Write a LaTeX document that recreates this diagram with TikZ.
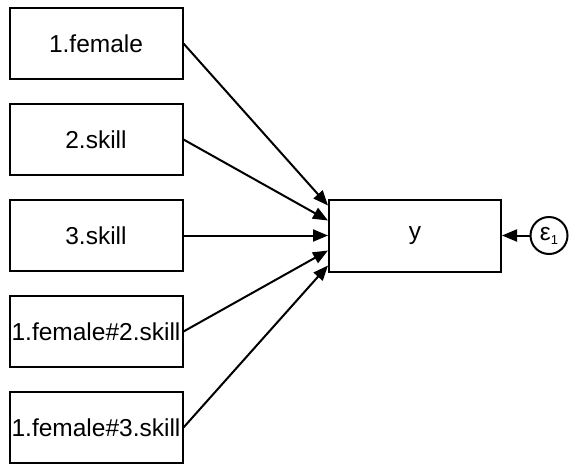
\documentclass[tikz,border=0pt]{standalone}
\usepackage{fontspec}
\setmainfont{Liberation Sans}
\usetikzlibrary{arrows.meta,positioning}
\tikzstyle{block} = [draw, rectangle, line width=2pt, minimum height=71pt, minimum width=173pt, inner sep=0pt]
\tikzstyle{err} = [draw, circle, line width=2pt, minimum size=37pt, inner sep=0pt]

\begin{document}
\begin{tikzpicture}[auto, node distance=96pt, >={Triangle[length=15pt,width=12pt]}, line width=2pt, font=\fontsize{24.5}{29}\selectfont]
\useasboundingbox (0,0) rectangle (570pt,-464pt);

\node [block] (female) at (96pt,-43.5pt) {1.female};
\node [block, below of=female] (skill2) {2.skill};
\node [block, below of=skill2] (skill3) {3.skill};
\node [block, below of=skill3] (fskill2) {1.female\#2.skill};
\node [block, below of=fskill2] (fskill3) {1.female\#3.skill};

\node [block, minimum width=172pt, minimum height=72pt] (y) at (415pt,-235.5pt) {y};
\node [err, right of=y, node distance=134pt] (e1) {ε\raisebox{-0.3ex}{\fontsize{13}{13}\selectfont 1}};

\coordinate (in1) at ([yshift=30pt]y.west);
\coordinate (in2) at ([yshift=15pt]y.west);
\coordinate (in4) at ([yshift=-15pt]y.west);
\coordinate (in5) at ([yshift=-30pt]y.west);

\draw [->] (female.east) -- (in1);
\draw [->] (skill2.east) -- (in2);
\draw [->] (skill3.east) -- (y.west);
\draw [->] (fskill2.east) -- (in4);
\draw [->] (fskill3.east) -- (in5);
\draw [->] (e1) -- (y);

\end{tikzpicture}
\end{document}
